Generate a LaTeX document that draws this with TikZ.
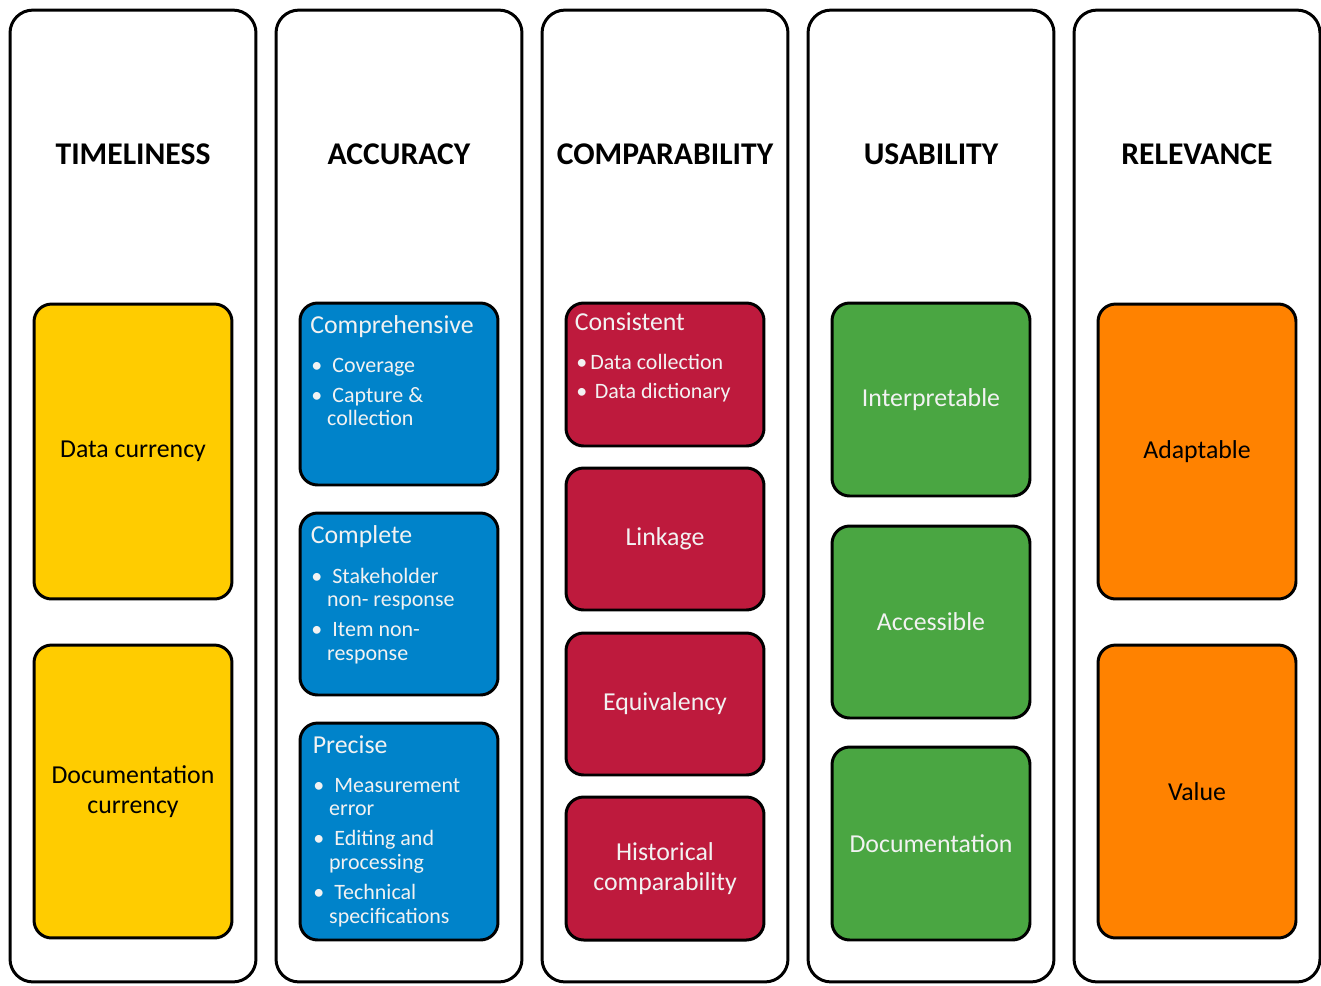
\documentclass[tikz,border=0pt]{standalone}
\usepackage{fontspec}
\setmainfont{Carlito}
\usepackage{tikz}

\definecolor{timeyellow}{HTML}{FFCC00}
\definecolor{accblue}{HTML}{0083CA}
\definecolor{compred}{HTML}{BE1A3D}
\definecolor{usegreen}{HTML}{4AA642}
\definecolor{relorange}{HTML}{FF8200}
\definecolor{paletext}{HTML}{F2F2F2}

% bullet item and continued line of a bullet item
\newcommand{\bul}[2][12pt]{\makebox[#1][l]{\textbullet}#2}
\newcommand{\cont}[1]{\hspace*{9pt}#1}

\begin{document}
\begin{tikzpicture}[x=0.02cm, y=-0.02cm,
    column/.style={draw, line width=1.7pt, rounded corners=13pt, minimum width=4.92cm, minimum height=19.44cm},
    heading/.style={font=\fontsize{18}{21}\selectfont\bfseries},
    card/.style={draw, line width=1.7pt, rounded corners=10pt, minimum width=3.96cm, inner sep=2pt, align=center, font=\fontsize{14.7}{17.2}\selectfont},
    title/.style={anchor=base west, inner sep=0pt, text=paletext, font=\fontsize{14.7}{17.2}\selectfont},
    list/.style={anchor=north west, inner sep=0pt, align=left, text=paletext, font=\fontsize{12.5}{13.4}\selectfont, execute at begin node=\strut}
]
    \fill[white] (0,0) rectangle (1321,985);
    \useasboundingbox (0,0) rectangle (1321,985);

    % the five columns
    \foreach \name/\head [count=\i from 0] in {timeliness/TIMELINESS, accuracy/ACCURACY,
        comparability/COMPARABILITY, usability/USABILITY, relevance/RELEVANCE}
    {
        \node[column] (\name) at ({133+266*\i},496) {};
        \node[heading] (\name-head) at ({133+266*\i},154) {\head};
    }

    % timeliness
    \node[card, fill=timeyellow, minimum height=5.9cm] (datacurr) at (133,451.5) {Data currency};
    \node[card, fill=timeyellow, minimum height=5.86cm] (doccurr) at (133,791.5) {Documentation\\currency};

    % accuracy
    \node[card, fill=accblue, minimum height=3.64cm] (compr) at (399,394) {};
    \node[title] (compr-t) at (310,333) {Comprehensive};
    \node[list] (compr-l) at (311,357.4) {\bul{Coverage}\\[3.8pt]\bul{Capture \&}\\\cont{collection}};

    \node[card, fill=accblue, minimum height=3.64cm] (compl) at (399,604) {};
    \node[title] (compl-t) at (310.5,543) {Complete};
    \node[list] (compl-l) at (311,567.6) {\bul{Stakeholder}\\\cont{non- response}\\[3.8pt]\bul{Item non-}\\\cont{response}};

    \node[card, fill=accblue, minimum height=4.34cm] (prec) at (399,831.5) {};
    \node[title] (prec-t) at (312.5,753.3) {Precise};
    \node[list] (prec-l) at (313,777.6) {\bul{Measurement}\\\cont{error}\\[3.8pt]\bul{Editing and}\\\cont{processing}\\[3.8pt]\bul{Technical}\\\cont{specifications}};

    % comparability
    \node[card, fill=compred, minimum height=2.86cm] (cons) at (665,374.5) {};
    \node[title] (cons-t) at (574.5,330.7) {Consistent};
    \node[list] (cons-l) at (576,354.2) {\bul[8pt]{Data collection}\\[2.8pt]\bul[10.5pt]{Data dictionary}};
    \node[card, fill=compred, text=paletext, minimum height=2.84cm] (link) at (665,539) {Linkage};
    \node[card, fill=compred, text=paletext, minimum height=2.84cm] (equiv) at (665,704) {Equivalency};
    \node[card, fill=compred, text=paletext, minimum height=2.86cm] (hist) at (665,868.5) {Historical\\comparability};

    % usability
    \node[card, fill=usegreen, text=paletext, minimum height=3.86cm] (interp) at (931,399.5) {Interpretable};
    \node[card, fill=usegreen, text=paletext, minimum height=3.84cm] (access) at (931,622) {Accessible};
    \node[card, fill=usegreen, text=paletext, minimum height=3.86cm] (docu) at (931,843.5) {Documentation};

    % relevance
    \node[card, fill=relorange, minimum height=5.9cm] (adapt) at (1197,451.5) {Adaptable};
    \node[card, fill=relorange, minimum height=5.86cm] (value) at (1197,791.5) {Value};
\end{tikzpicture}
\end{document}
